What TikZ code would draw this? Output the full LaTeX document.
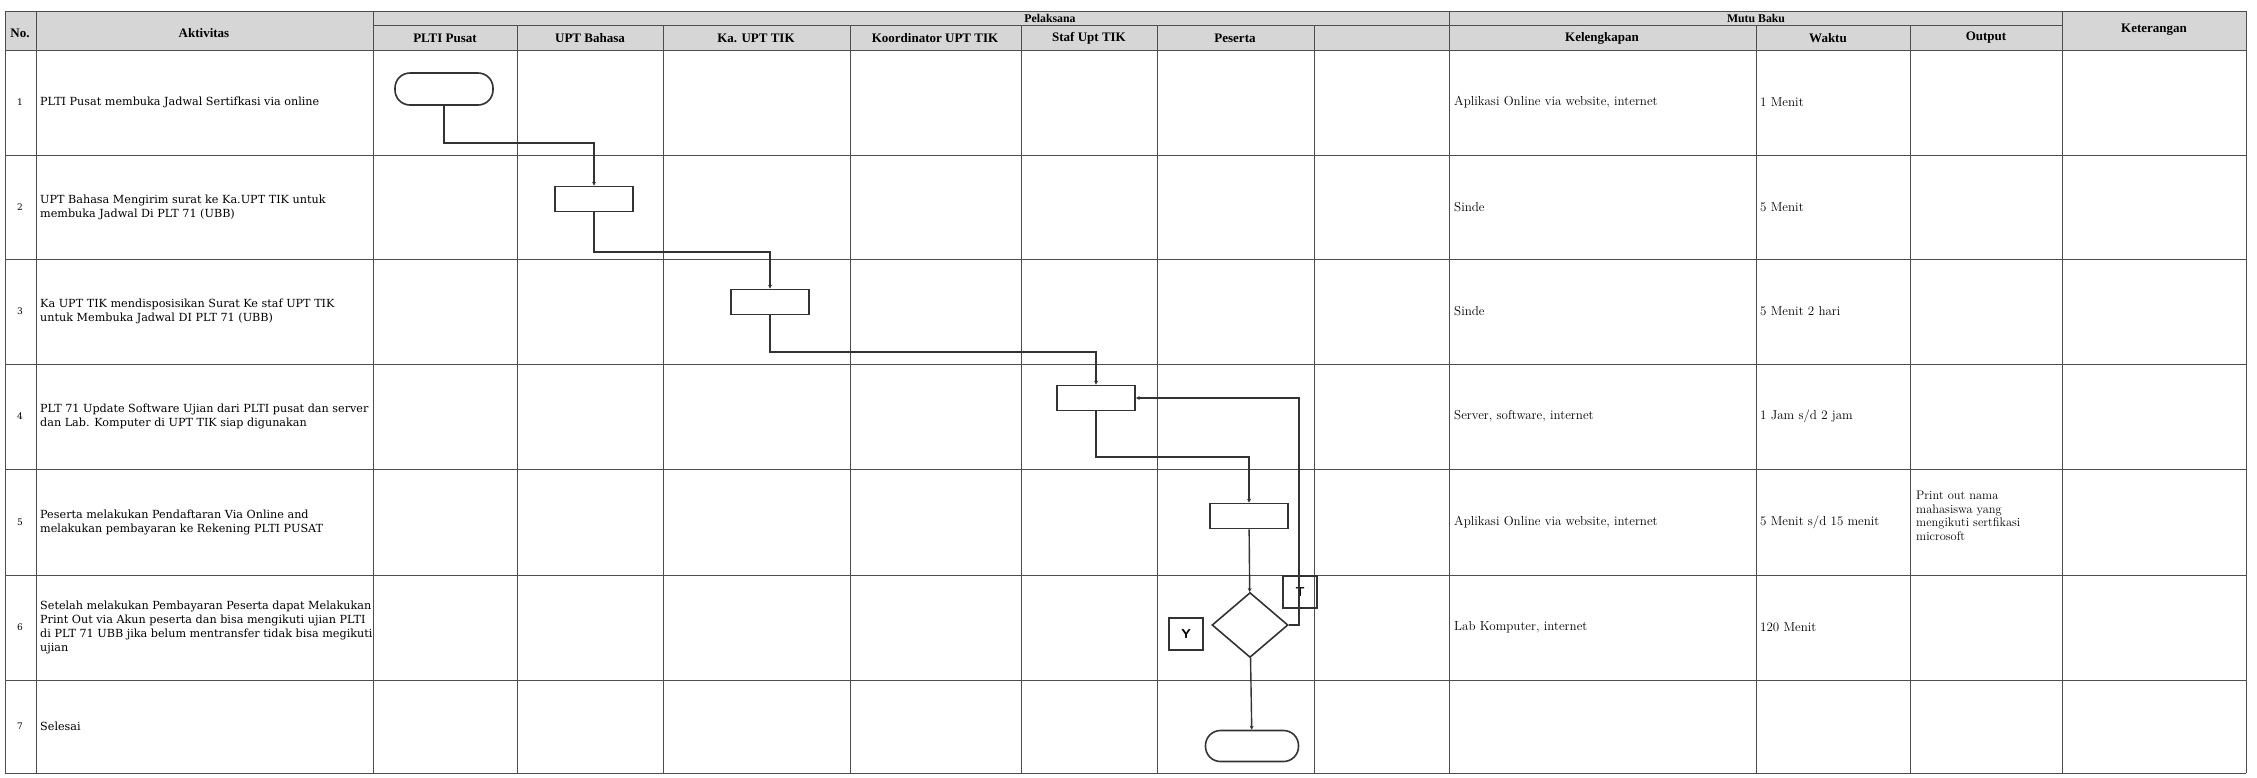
\documentclass[tikz,border=0pt]{standalone}
\usepackage{fontspec}
\usepackage{tikz}
\usetikzlibrary{arrows.meta,shapes.geometric}
\newfontfamily\bodyfont{DejaVu Serif}
\newfontfamily\headfont{Liberation Serif}
\definecolor{headgray}{HTML}{D6D6D6}
\definecolor{ruleline}{HTML}{4D4D4D}
\definecolor{flowline}{HTML}{333333}

\begin{document}
\begin{tikzpicture}[
  x=1pt,y=-1pt,
  rule/.style={draw=ruleline,line width=0.9pt},
  head/.style={inner sep=0pt,font=\headfont\bfseries\fontsize{13}{15}\selectfont},
  group/.style={inner sep=0pt,font=\headfont\bfseries\fontsize{11.8}{13}\selectfont},
  num/.style={inner sep=0pt,font=\bodyfont\fontsize{9}{11}\selectfont},
  act/.style={anchor=west,align=left,inner sep=0pt,font=\bodyfont\fontsize{11.2}{14}\selectfont},
  info/.style={anchor=west,align=left,inner sep=0pt,font=\fontsize{13}{13.5}\selectfont},
  term/.style={draw=flowline,line width=1.6pt,rounded corners=15pt,minimum width=98pt,minimum height=32pt,inner sep=0pt},
  proc/.style={draw=flowline,line width=1.6pt,minimum width=78pt,minimum height=25pt,inner sep=0pt},
  decision/.style={draw=flowline,line width=1.6pt,diamond,minimum width=76pt,minimum height=65pt,inner sep=0pt},
  tag/.style={draw=flowline,line width=1.4pt,minimum width=34pt,minimum height=32pt,inner sep=0pt,font=\sffamily\bfseries\fontsize{13}{13}\selectfont},
  flow/.style={draw=flowline,line width=1.4pt,-{Stealth[length=4pt,width=4pt]}}
]
\useasboundingbox (0,0) rectangle (2257,777);
% table
\fill[headgray] (5,11) rectangle (2246,50);
\foreach \y in {11,50,155,259,364,469,575,680,773} \draw[rule] (5,\y) -- (2246,\y);
\draw[rule] (373,25) -- (2062,25);
\foreach \x in {5,36,373,1449,2062,2246} \draw[rule] (\x,11) -- (\x,773);
\foreach \x in {517,663,850,1021,1157,1314,1756,1910} \draw[rule] (\x,25) -- (\x,773);
% header
\node[head] (hno) at (20,33) {No.};
\node[head] (hakt) at (204,33) {Aktivitas};
\node[group] (hpel) at (1050,18) {Pelaksana};
\node[group] (hmutu) at (1756,18) {Mutu Baku};
\node[head] (hket) at (2154,30) {Keterangan};
\node[head] (hplti) at (445,38) {PLTI Pusat};
\node[head] (hbhs) at (590,38) {UPT Bahasa};
\node[head] (hka) at (756,38) {Ka. UPT TIK};
\node[head] (hkoor) at (935,38) {Koordinator UPT TIK};
\node[head] (hstaf) at (1089,38) {Staf Upt TIK};
\node[head] (hpes) at (1235,38) {Peserta};
\node[head] (hkel) at (1602,38) {Kelengkapan};
\node[head] (hwkt) at (1828,38) {Waktu};
\node[head] (hout) at (1986,38) {Output};
% activities
\node[num] (n1) at (20,102) {1};
\node[num] (n2) at (20,207) {2};
\node[num] (n3) at (20,311) {3};
\node[num] (n4) at (20,416) {4};
\node[num] (n5) at (20,522) {5};
\node[num] (n6) at (20,627) {6};
\node[num] (n7) at (20,726) {7};
\node[act] (a1) at (40,102) {PLTI Pusat membuka Jadwal Sertifkasi via online};
\node[act] (a2) at (40,207) {UPT Bahasa Mengirim surat ke Ka.UPT TIK untuk\\membuka Jadwal Di PLT 71 (UBB)};
\node[act] (a3) at (40,311) {Ka UPT TIK mendisposisikan Surat Ke staf UPT TIK\\untuk Membuka Jadwal DI PLT 71 (UBB)};
\node[act] (a4) at (40,416) {PLT 71 Update Software Ujian dari PLTI pusat dan server\\dan Lab. Komputer di UPT TIK siap digunakan};
\node[act] (a5) at (40,522) {Peserta melakukan Pendaftaran Via Online and\\melakukan pembayaran ke Rekening PLTI PUSAT};
\node[act] (a6) at (40,627) {Setelah melakukan Pembayaran Peserta dapat Melakukan\\Print Out via Akun peserta dan bisa mengikuti ujian PLTI\\di PLT 71 UBB jika belum mentransfer tidak bisa megikuti\\ujian};
\node[act] (a7) at (40,726) {Selesai};
% mutu baku
\node[info] (k1) at (1454,102) {Aplikasi Online via website, internet};
\node[info] (k2) at (1454,207) {Sinde};
\node[info] (k3) at (1454,311) {Sinde};
\node[info] (k4) at (1454,416) {Server, software, internet};
\node[info] (k5) at (1454,522) {Aplikasi Online via website, internet};
\node[info] (k6) at (1454,627) {Lab Komputer, internet};
\node[info] (w1) at (1760,102) {1 Menit};
\node[info] (w2) at (1760,207) {5 Menit};
\node[info] (w3) at (1760,311) {5 Menit 2 hari};
\node[info] (w4) at (1760,416) {1 Jam s/d 2 jam};
\node[info] (w5) at (1760,522) {5 Menit s/d 15 menit};
\node[info] (w6) at (1760,627) {120 Menit};
\node[info,font=\fontsize{12.4}{13.5}\selectfont] (o5) at (1916,516) {Print out nama\\mahasiswa yang\\mengikuti sertfikasi\\microsoft};
% flow
\node[term] (start) at (444,89) {};
\node[proc] (b1) at (594,199) {};
\node[proc] (b2) at (770,302) {};
\node[proc] (b3) at (1096,398) {};
\node[proc] (b4) at (1249,516) {};
\node[decision] (cek) at (1250,625) {};
\node[term,minimum width=93pt,minimum height=31pt] (stop) at (1252,746) {};
\node[tag] (ya) at (1186,634) {Y};
\node[tag] (tidak) at (1300,592) {T};
\draw[flow] (start.south) -- (start.south |- 0,143) -| (b1.north);
\draw[flow] (b1.south) -- (b1.south |- 0,252) -| (b2.north);
\draw[flow] (b2.south) -- (b2.south |- 0,352) -| (b3.north);
\draw[flow] (b3.south) -- (b3.south |- 0,457) -| (b4.north);
\draw[flow] (b4) -- (cek);
\draw[flow] (cek) -- (stop);
\draw[flow] (cek.east) -- (1299,0 |- cek.east) |- (b3.east);
\end{tikzpicture}
\end{document}
